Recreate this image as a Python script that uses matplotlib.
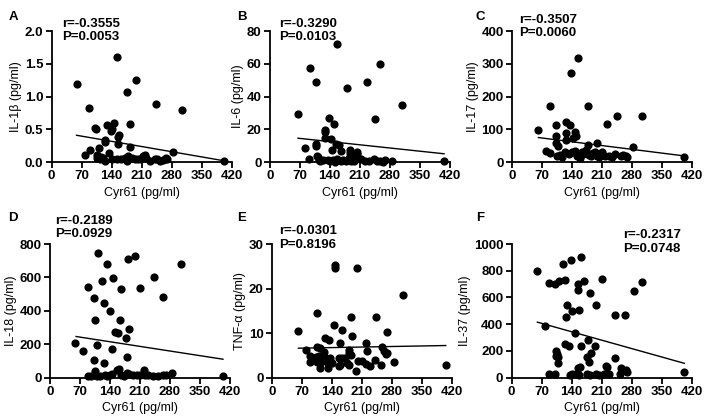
import matplotlib.pyplot as plt

plt.rcParams["font.family"] = ["Liberation Sans", "DejaVu Sans"]

# Cyr61 (x) values and cytokine levels
xa = [58, 153, 198, 176, 243, 86, 304, 102, 104, 129, 146, 141, 138, 182, 158, 154, 125, 124, 183, 154,
      133, 111, 89, 77, 105, 105, 113, 120, 140, 152, 163, 171, 179, 187, 194, 202, 214, 221, 229, 241,
      253, 264, 268, 284, 403, 116, 124, 176, 208, 218, 246, 261, 270]
ya = [1.19, 1.60, 1.25, 1.07, 0.89, 0.82, 0.79, 0.52, 0.50, 0.57, 0.60, 0.50, 0.48, 0.58, 0.42, 0.39, 0.31, 0.34, 0.23, 0.28,
      0.14, 0.21, 0.19, 0.11, 0.11, 0.07, 0.04, 0.06, 0.04, 0.04, 0.05, 0.06, 0.09, 0.06, 0.04, 0.05, 0.09, 0.06, 0.02, 0.05,
      0.02, 0.05, 0.07, 0.16, 0.02, 0.08, 0.01, 0.02, 0.04, 0.11, 0.04, 0.03, 0.04]

xb = [65, 94, 108, 158, 181, 226, 258, 308, 245, 138, 151, 129, 129, 129, 142, 83, 108, 108, 154, 162,
      145, 166, 187, 187, 204, 204, 92, 110, 116, 118, 124, 135, 147, 158, 166, 178, 186, 196, 213, 222,
      232, 243, 258, 270, 285, 407, 112, 140, 152, 172, 190, 200, 250, 265]
yb = [29.4, 57.7, 48.7, 71.9, 45.3, 48.7, 59.7, 34.9, 26.4, 27.2, 23.1, 19.9, 18.3, 15.0, 14.2, 8.9, 11.0, 9.7, 11.0, 10.6,
      7.7, 6.5, 7.1, 5.5, 6.1, 4.7, 2.0, 3.7, 1.5, 0.8, 1.2, 1.2, 1.0, 2.0, 0.8, 0.8, 2.4, 0.8, 1.6, 0.8,
      0.8, 2.0, 0.8, 1.0, 0.8, 0.8, 3.0, 0.5, 0.3, 1.5, 0.5, 3.5, 0.5, 0.3]

xc = [61, 90, 139, 155, 178, 222, 245, 303, 104, 104, 104, 126, 135, 126, 148, 143, 149, 126, 178, 198,
      283, 79, 90, 106, 113, 123, 133, 147, 158, 158, 164, 167, 181, 189, 198, 210, 218, 227, 241, 256,
      266, 270, 402, 108, 117, 140, 152, 160, 172, 185, 194, 204, 233, 260]
yc = [97, 170, 271, 319, 171, 115, 142, 142, 113, 81, 57, 122, 112, 90, 91, 73, 81, 66, 51, 57,
      46, 34, 28, 19, 22, 32, 24, 35, 20, 14, 32, 26, 22, 27, 20, 30, 20, 20, 26, 20,
      20, 17, 17, 50, 15, 30, 18, 25, 36, 18, 30, 16, 16, 22]

xd = [113, 183, 198, 134, 305, 121, 147, 243, 88, 167, 211, 264, 102, 126, 141, 104, 163, 153, 159, 185,
      177, 59, 109, 78, 144, 102, 125, 179,
      88, 95, 103, 105, 109, 117, 128, 134, 140, 146, 156, 162, 165, 173, 179, 185, 195, 204, 210, 219,
      222, 229, 241, 253, 264, 270, 285, 404]
yd = [745, 711, 729, 679, 679, 579, 599, 605, 543, 531, 539, 485, 477, 447, 401, 347, 347, 273, 265, 293,
      236, 206, 198, 162, 170, 104, 90, 124,
      8, 8, 18, 38, 8, 12, 18, 8, 14, 24, 44, 50, 14, 8, 30, 24, 14, 14, 18, 44,
      14, 18, 10, 8, 14, 18, 26, 8]

xe = [148, 148, 199, 306, 105, 184, 244, 144, 61, 163, 269, 124, 134, 186, 159, 220, 106, 113, 80, 121,
      180, 180, 185, 223, 257, 261, 268, 266,
      89, 103, 109, 124, 136, 156, 163, 171,
      89, 105, 113, 128, 140, 158, 175, 202, 210, 220, 229, 240, 255, 285,
      113, 130, 156, 181, 196, 406]
ye = [25.3, 24.6, 24.6, 18.6, 14.4, 13.6, 13.7, 11.9, 10.5, 10.6, 10.2, 9.0, 8.5, 9.3, 7.7, 7.7, 6.9, 6.7, 6.2, 5.8,
      6.2, 5.5, 5.1, 6.0, 6.8, 6.0, 5.6, 5.3,
      4.9, 4.7, 4.9, 4.5, 4.4, 4.5, 4.5, 4.5,
      3.4, 3.4, 3.2, 3.6, 3.2, 2.9, 3.2, 3.8, 3.8, 3.0, 2.6, 3.9, 2.9, 3.6,
      2.2, 2.1, 2.6, 2.9, 1.4, 2.9]

xf = [58, 120, 139, 163, 87, 101, 111, 124, 154, 168, 211, 305, 285, 155, 182, 129, 142, 158, 198, 126,
      242, 264, 77, 147, 124, 134, 162, 178, 195, 185, 103, 106, 103, 109, 109, 177, 241, 180, 159, 156,
      220, 223, 255, 268, 269, 88, 101, 136, 142, 150, 158, 176, 183, 197, 204, 216, 228, 254, 403]
yf = [801, 848, 883, 903, 711, 704, 726, 731, 704, 726, 741, 716, 647, 652, 637, 542, 500, 505, 547, 450,
      470, 470, 386, 333, 249, 236, 236, 284, 236, 187, 199, 174, 162, 157, 112, 154, 149, 117, 82, 70,
      90, 80, 75, 57, 45, 25, 25, 20, 28, 30, 22, 25, 18, 25, 22, 25, 25, 25, 40]

# regression line ends (x, y)
line_a = ([58, 403], [0.41, 0.02])
line_b = ([66, 407], [14.6, 5.1])
line_c = ([62, 402], [75, 19])
line_d = ([61, 404], [246, 110])
line_e = ([62, 406], [6.6, 7.2])
line_f = ([60, 403], [415, 107])

ylabels = ["IL-1β (pg/ml)", "IL-6 (pg/ml)", "IL-17 (pg/ml)", "IL-18 (pg/ml)", "TNF-α (pg/ml)", "IL-37 (pg/ml)"]
stats = ["r=-0.3555\nP=0.0053", "r=-0.3290\nP=0.0103", "r=-0.3507\nP=0.0060",
         "r=-0.2189\nP=0.0929", "r=-0.0301\nP=0.8196", "r=-0.2317\nP=0.0748"]
letters = ["A", "B", "C", "D", "E", "F"]
yticks = [[0, 0.5, 1.0, 1.5, 2.0], [0, 20, 40, 60, 80], [0, 100, 200, 300, 400],
          [0, 200, 400, 600, 800], [0, 10, 20, 30], [0, 200, 400, 600, 800, 1000]]
xticks = [0, 70, 140, 210, 280, 350, 420]

xs = [xa, xb, xc, xd, xe, xf]
ys = [ya, yb, yc, yd, ye, yf]
lines = [line_a, line_b, line_c, line_d, line_e, line_f]

# axes boxes in figure fraction
boxes = [(0.073, 0.614, 0.254, 0.312), (0.381, 0.614, 0.254, 0.312), (0.723, 0.614, 0.254, 0.312),
         (0.0706, 0.101, 0.254, 0.318), (0.384, 0.101, 0.254, 0.318), (0.7227, 0.101, 0.254, 0.318)]
# stats text position (axes fraction)
text_pos = [(0.06, 1.10), (0.05, 1.10), (0.04, 1.13), (0.03, 1.22), (0.04, 1.14), (0.62, 1.11)]
letter_pos = [(0.012, 0.975), (0.335, 0.975), (0.672, 0.975), (0.012, 0.495), (0.335, 0.495), (0.672, 0.495)]

fig = plt.figure(figsize=(7.08, 4.2), dpi=100)

for i in range(6):
    ax = fig.add_axes(boxes[i])
    ax.scatter(xs[i], ys[i], s=24, color="black", zorder=3, clip_on=False)
    ax.plot(lines[i][0], lines[i][1], color="black", lw=1.0)
    ax.set_xlim(0, 420)
    ax.set_ylim(0, yticks[i][-1])
    ax.set_xticks(xticks)
    ax.set_yticks(yticks[i])
    if i == 0:
        ax.set_yticklabels(["0.0", "0.5", "1.0", "1.5", "2.0"])
    ax.spines["top"].set_visible(False)
    ax.spines["right"].set_visible(False)
    ax.spines["left"].set_linewidth(1.3)
    ax.spines["bottom"].set_linewidth(1.3)
    ax.tick_params(direction="out", length=4, width=1.3, labelsize=9.5, pad=2)
    for lab in ax.get_xticklabels() + ax.get_yticklabels():
        lab.set_fontweight("bold")
    ax.set_xlabel("Cyr61 (pg/ml)", fontsize=9, labelpad=3)
    ax.set_ylabel(ylabels[i], fontsize=9, labelpad=2)
    ax.text(text_pos[i][0], text_pos[i][1], stats[i], transform=ax.transAxes,
            fontsize=9.5, fontweight="bold", va="top", ha="left", linespacing=1.15)
    fig.text(letter_pos[i][0], letter_pos[i][1], letters[i], fontsize=9.5, fontweight="bold", va="top")

fig.savefig("out.png", dpi=100)
